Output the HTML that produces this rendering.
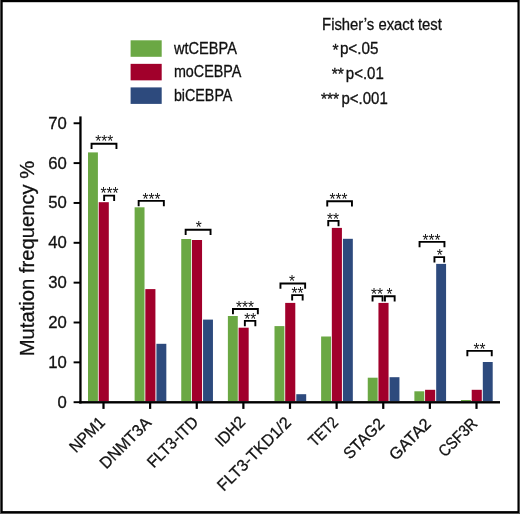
<!DOCTYPE html><html><head><meta charset="utf-8"><title>Mutation frequency</title>
<style>html,body{margin:0;padding:0;background:#fff}body{width:520px;height:514px;overflow:hidden}svg{display:block}text{font-family:"Liberation Sans",sans-serif;fill:#111;stroke:#111;stroke-width:.3px}text.s{stroke:none}</style></head><body>
<svg width="520" height="514" viewBox="0 0 520 514">
<rect x="0" y="0" width="520" height="514" fill="#fff"/>
<rect x="0" y="0" width="520" height="2.2" fill="#000"/>
<rect x="0" y="511.1" width="520" height="2.9" fill="#000"/>
<rect x="0" y="0" width="2.7" height="514" fill="#000"/>
<rect x="517.45" y="0" width="2.55" height="514" fill="#000"/>
<rect x="0" y="0" width="1" height="514" fill="#4a4a4a"/>
<rect x="519" y="0" width="1" height="514" fill="#555"/>
<rect x="0" y="513" width="520" height="1" fill="#555"/>
<rect x="88.00" y="152.4" width="9.9" height="248.80" fill="#6ba844"/>
<rect x="98.70" y="202.2" width="10.1" height="199.00" fill="#a1002b"/>
<rect x="134.62" y="207.3" width="9.9" height="193.90" fill="#6ba844"/>
<rect x="145.32" y="289.1" width="10.1" height="112.10" fill="#a1002b"/>
<rect x="156.43" y="343.8" width="9.9" height="57.40" fill="#2d4a7d"/>
<rect x="181.25" y="239" width="9.9" height="162.20" fill="#6ba844"/>
<rect x="191.95" y="240" width="10.1" height="161.20" fill="#a1002b"/>
<rect x="203.05" y="319.6" width="9.9" height="81.60" fill="#2d4a7d"/>
<rect x="227.88" y="316" width="9.9" height="85.20" fill="#6ba844"/>
<rect x="238.57" y="327.7" width="10.1" height="73.50" fill="#a1002b"/>
<rect x="274.50" y="326.1" width="9.9" height="75.10" fill="#6ba844"/>
<rect x="285.20" y="302.9" width="10.1" height="98.30" fill="#a1002b"/>
<rect x="296.30" y="394.2" width="9.9" height="7.00" fill="#2d4a7d"/>
<rect x="321.12" y="336.5" width="9.9" height="64.70" fill="#6ba844"/>
<rect x="331.82" y="227.9" width="10.1" height="173.30" fill="#a1002b"/>
<rect x="342.93" y="238.8" width="9.9" height="162.40" fill="#2d4a7d"/>
<rect x="367.75" y="377.7" width="9.9" height="23.50" fill="#6ba844"/>
<rect x="378.45" y="302.9" width="10.1" height="98.30" fill="#a1002b"/>
<rect x="389.55" y="377.2" width="9.9" height="24.00" fill="#2d4a7d"/>
<rect x="414.38" y="391.3" width="9.9" height="9.90" fill="#6ba844"/>
<rect x="425.07" y="389.8" width="10.1" height="11.40" fill="#a1002b"/>
<rect x="436.18" y="263.9" width="9.9" height="137.30" fill="#2d4a7d"/>
<rect x="461.00" y="400.0" width="9.9" height="1.20" fill="#6ba844"/>
<rect x="471.70" y="389.8" width="10.1" height="11.40" fill="#a1002b"/>
<rect x="482.80" y="362" width="9.9" height="39.20" fill="#2d4a7d"/>
<rect x="79.3" y="116.4" width="2.3" height="287.1" fill="#000"/>
<rect x="79.3" y="401.1" width="420.7" height="2.4" fill="#000"/>
<rect x="73.6" y="401.23" width="6.5" height="1.95" fill="#000"/>
<text x="66.9" y="407.60" font-size="16.6" text-anchor="end" textLength="9.3" lengthAdjust="spacingAndGlyphs">0</text>
<rect x="73.6" y="361.38" width="6.5" height="1.95" fill="#000"/>
<text x="66.9" y="367.75" font-size="16.6" text-anchor="end" textLength="18.6" lengthAdjust="spacingAndGlyphs">10</text>
<rect x="73.6" y="321.53" width="6.5" height="1.95" fill="#000"/>
<text x="66.9" y="327.90" font-size="16.6" text-anchor="end" textLength="18.6" lengthAdjust="spacingAndGlyphs">20</text>
<rect x="73.6" y="281.68" width="6.5" height="1.95" fill="#000"/>
<text x="66.9" y="288.05" font-size="16.6" text-anchor="end" textLength="18.6" lengthAdjust="spacingAndGlyphs">30</text>
<rect x="73.6" y="241.83" width="6.5" height="1.95" fill="#000"/>
<text x="66.9" y="248.20" font-size="16.6" text-anchor="end" textLength="18.6" lengthAdjust="spacingAndGlyphs">40</text>
<rect x="73.6" y="201.98" width="6.5" height="1.95" fill="#000"/>
<text x="66.9" y="208.35" font-size="16.6" text-anchor="end" textLength="18.6" lengthAdjust="spacingAndGlyphs">50</text>
<rect x="73.6" y="162.13" width="6.5" height="1.95" fill="#000"/>
<text x="66.9" y="168.50" font-size="16.6" text-anchor="end" textLength="18.6" lengthAdjust="spacingAndGlyphs">60</text>
<rect x="73.6" y="122.28" width="6.5" height="1.95" fill="#000"/>
<text x="66.9" y="128.65" font-size="16.6" text-anchor="end" textLength="18.6" lengthAdjust="spacingAndGlyphs">70</text>
<rect x="102.40" y="403" width="2.2" height="5.9" fill="#000"/>
<text transform="translate(106.10,423.4) rotate(-45)" font-size="16.4" text-anchor="end" textLength="42.5" lengthAdjust="spacingAndGlyphs">NPM1</text>
<rect x="149.03" y="403" width="2.2" height="5.9" fill="#000"/>
<text transform="translate(152.12,423.7) rotate(-45)" font-size="16.4" text-anchor="end" textLength="65" lengthAdjust="spacingAndGlyphs">DNMT3A</text>
<rect x="195.65" y="403" width="2.2" height="5.9" fill="#000"/>
<text transform="translate(199.25,423.2) rotate(-45)" font-size="16.4" text-anchor="end" textLength="64.5" lengthAdjust="spacingAndGlyphs">FLT3-ITD</text>
<rect x="242.28" y="403" width="2.2" height="5.9" fill="#000"/>
<text transform="translate(246.38,423) rotate(-45)" font-size="16.4" text-anchor="end" textLength="35" lengthAdjust="spacingAndGlyphs">IDH2</text>
<rect x="288.90" y="403" width="2.2" height="5.9" fill="#000"/>
<text transform="translate(292.00,423.7) rotate(-45)" font-size="16.4" text-anchor="end" textLength="96.5" lengthAdjust="spacingAndGlyphs">FLT3-TKD1/2</text>
<rect x="335.52" y="403" width="2.2" height="5.9" fill="#000"/>
<text transform="translate(339.12,423.5) rotate(-45)" font-size="16.4" text-anchor="end" textLength="34" lengthAdjust="spacingAndGlyphs">TET2</text>
<rect x="382.15" y="403" width="2.2" height="5.9" fill="#000"/>
<text transform="translate(385.25,424.8) rotate(-45)" font-size="16.4" text-anchor="end" textLength="49.8" lengthAdjust="spacingAndGlyphs">STAG2</text>
<rect x="428.77" y="403" width="2.2" height="5.9" fill="#000"/>
<text transform="translate(431.88,425) rotate(-45)" font-size="16.4" text-anchor="end" textLength="51.1" lengthAdjust="spacingAndGlyphs">GATA2</text>
<rect x="475.40" y="403" width="2.2" height="5.9" fill="#000"/>
<text transform="translate(478.20,424.6) rotate(-45)" font-size="16.4" text-anchor="end" textLength="47" lengthAdjust="spacingAndGlyphs">CSF3R</text>
<text transform="translate(34,356.3) rotate(-90)" font-size="20.4" textLength="195.5" lengthAdjust="spacingAndGlyphs">Mutation frequency %</text>
<rect x="130.6" y="40.30" width="31.1" height="16.5" fill="#6ba844"/>
<text x="173.9" y="53.50" font-size="15.6" textLength="63" lengthAdjust="spacingAndGlyphs">wtCEBPA</text>
<rect x="130.6" y="63.85" width="31.1" height="16.5" fill="#a1002b"/>
<text x="173.9" y="77.00" font-size="15.6" textLength="67.5" lengthAdjust="spacingAndGlyphs">moCEBPA</text>
<rect x="130.6" y="87.40" width="31.1" height="16.5" fill="#2d4a7d"/>
<text x="173.9" y="100.50" font-size="15.6" textLength="58.5" lengthAdjust="spacingAndGlyphs">biCEBPA</text>
<text x="322.1" y="29.5" font-size="15.6" textLength="119.8" lengthAdjust="spacingAndGlyphs">Fisher’s exact test</text>
<text y="54.3" font-size="15.6"><tspan x="332.4" dy="1.2">*</tspan><tspan x="339.9" dy="-1.2" textLength="38.6" lengthAdjust="spacingAndGlyphs">p&lt;.05</tspan></text>
<text y="78.8" font-size="15.6"><tspan x="331.7" dy="1.2">**</tspan><tspan x="345.8" dy="-1.2" textLength="38" lengthAdjust="spacingAndGlyphs">p&lt;.01</tspan></text>
<text y="103.7" font-size="15.6"><tspan x="320.9" dy="1.2">***</tspan><tspan x="341.5" dy="-1.2" textLength="46.3" lengthAdjust="spacingAndGlyphs">p&lt;.001</tspan></text>
<path d="M91.55 149.10V143.80H116.45V149.10" fill="none" stroke="#000" stroke-width="1.9"/>
<text x="104.2" y="147.40" class="s" font-size="16.5" text-anchor="middle" textLength="18.0" lengthAdjust="spacingAndGlyphs">***</text>
<path d="M104.15 200.90V195.60H114.15V200.90" fill="none" stroke="#000" stroke-width="1.9"/>
<text x="109.5" y="199.20" class="s" font-size="16.5" text-anchor="middle" textLength="18.0" lengthAdjust="spacingAndGlyphs">***</text>
<path d="M138.65 206.20V200.90H163.85V206.20" fill="none" stroke="#000" stroke-width="1.9"/>
<text x="151.6" y="204.50" class="s" font-size="16.5" text-anchor="middle" textLength="18.0" lengthAdjust="spacingAndGlyphs">***</text>
<path d="M185.65 235.00V229.70H210.55V235.00" fill="none" stroke="#000" stroke-width="1.9"/>
<text x="198.7" y="233.30" class="s" font-size="16.5" text-anchor="middle" textLength="6.0" lengthAdjust="spacingAndGlyphs">*</text>
<path d="M232.95 314.30V309.00H257.85V314.30" fill="none" stroke="#000" stroke-width="1.9"/>
<text x="245.1" y="312.60" class="s" font-size="16.5" text-anchor="middle" textLength="18.0" lengthAdjust="spacingAndGlyphs">***</text>
<path d="M244.85 326.20V320.90H255.35V326.20" fill="none" stroke="#000" stroke-width="1.9"/>
<text x="250.2" y="324.50" class="s" font-size="16.5" text-anchor="middle" textLength="12.0" lengthAdjust="spacingAndGlyphs">**</text>
<path d="M280.45 288.80V283.50H305.15V288.80" fill="none" stroke="#000" stroke-width="1.9"/>
<text x="291.9" y="287.10" class="s" font-size="16.5" text-anchor="middle" textLength="6.0" lengthAdjust="spacingAndGlyphs">*</text>
<path d="M292.15 300.40V295.10H302.65V300.40" fill="none" stroke="#000" stroke-width="1.9"/>
<text x="297.5" y="298.70" class="s" font-size="16.5" text-anchor="middle" textLength="12.0" lengthAdjust="spacingAndGlyphs">**</text>
<path d="M327.25 206.50V201.20H351.95V206.50" fill="none" stroke="#000" stroke-width="1.9"/>
<text x="338.4" y="204.80" class="s" font-size="16.5" text-anchor="middle" textLength="18.0" lengthAdjust="spacingAndGlyphs">***</text>
<path d="M328.25 226.20V220.90H338.55V226.20" fill="none" stroke="#000" stroke-width="1.9"/>
<text x="332.9" y="224.50" class="s" font-size="16.5" text-anchor="middle" textLength="12.0" lengthAdjust="spacingAndGlyphs">**</text>
<path d="M372.55 301.60V296.30H382.55V301.60" fill="none" stroke="#000" stroke-width="1.9"/>
<text x="376.9" y="299.90" class="s" font-size="16.5" text-anchor="middle" textLength="12.0" lengthAdjust="spacingAndGlyphs">**</text>
<path d="M384.95 301.60V296.30H394.65V301.60" fill="none" stroke="#000" stroke-width="1.9"/>
<text x="389.5" y="299.90" class="s" font-size="16.5" text-anchor="middle" textLength="6.0" lengthAdjust="spacingAndGlyphs">*</text>
<path d="M419.55 247.20V241.90H444.45V247.20" fill="none" stroke="#000" stroke-width="1.9"/>
<text x="431.5" y="245.50" class="s" font-size="16.5" text-anchor="middle" textLength="18.0" lengthAdjust="spacingAndGlyphs">***</text>
<path d="M434.45 262.40V257.10H444.15V262.40" fill="none" stroke="#000" stroke-width="1.9"/>
<text x="439.8" y="260.70" class="s" font-size="16.5" text-anchor="middle" textLength="6.0" lengthAdjust="spacingAndGlyphs">*</text>
<path d="M467.35 356.20V350.90H491.75V356.20" fill="none" stroke="#000" stroke-width="1.9"/>
<text x="479.5" y="354.50" class="s" font-size="16.5" text-anchor="middle" textLength="12.0" lengthAdjust="spacingAndGlyphs">**</text>
</svg></body></html>
